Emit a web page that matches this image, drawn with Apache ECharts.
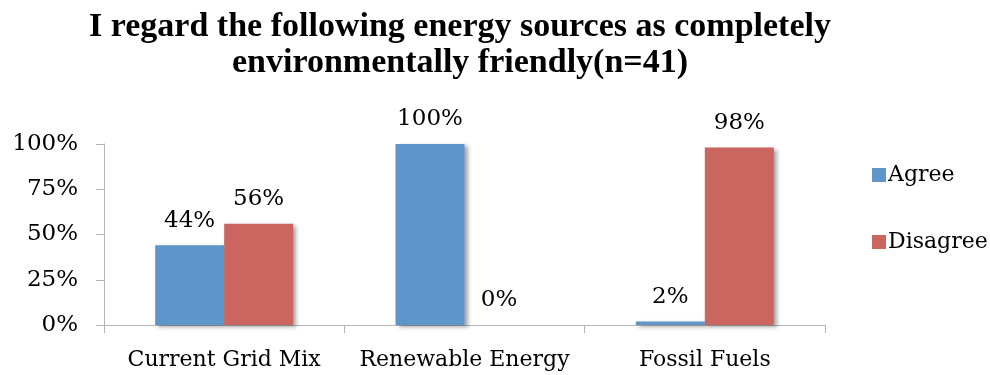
<!DOCTYPE html>
<html>
<head>
<meta charset="utf-8">
<script src="https://cdn.jsdelivr.net/npm/echarts@6/dist/echarts.min.js"></script>
<style>
  html, body { margin: 0; padding: 0; background: #fff; }
  #chart { width: 990px; height: 375px; }
</style>
</head>
<body>
<div id="chart"></div>
<script>
const categories = ['Current Grid Mix', 'Renewable Energy', 'Fossil Fuels'];
const agree = [44, 100, 2];
const disagree = [56, 0, 98];
const yTicks = [0, 25, 50, 75, 100];

const serif = '"DejaVu Serif", serif';
const shadow = {
  shadowColor: 'rgba(0,0,0,0.35)',
  shadowBlur: 4,
  shadowOffsetX: 3,
  shadowOffsetY: 2
};
const barLabel = {
  show: true, position: 'top', distance: 13, formatter: '{c}%',
  fontFamily: serif, fontSize: 23, color: '#000'
};

const chart = echarts.init(document.getElementById('chart'));
chart.setOption({
  animation: false,
  backgroundColor: '#fff',
  title: {
    text: 'I regard the following energy sources as completely\nenvironmentally friendly(n=41)',
    left: 455,
    top: 4,
    textAlign: 'center',
    textStyle: {
      fontFamily: '"Liberation Serif", serif',
      fontWeight: 'bold',
      fontSize: 34,
      lineHeight: 36,
      color: '#000'
    }
  },
  legend: {
    orient: 'vertical',
    left: 867,
    top: 159,
    itemWidth: 14,
    itemHeight: 14,
    itemGap: 45,
    icon: 'rect',
    textStyle: { fontFamily: serif, fontSize: 22, color: '#000', padding: [0, 0, 0, -3] },
    data: ['Agree', 'Disagree']
  },
  grid: { left: 104, right: 165, top: 144, bottom: 50 },
  xAxis: {
    type: 'category',
    data: categories,
    axisLine: { lineStyle: { color: '#b4b4b4', width: 1 } },
    axisTick: { show: true, length: 8, lineStyle: { color: '#b4b4b4' } },
    axisLabel: { interval: 0, fontFamily: serif, fontSize: 22, color: '#000', margin: 24 }
  },
  yAxis: {
    type: 'value',
    min: yTicks[0],
    max: yTicks[yTicks.length - 1],
    interval: 25,
    splitLine: { show: false },
    axisLine: { show: true, lineStyle: { color: '#b4b4b4', width: 1 } },
    axisTick: { show: true, length: 8, lineStyle: { color: '#b4b4b4' } },
    axisLabel: { fontFamily: serif, fontSize: 23, color: '#000', margin: 26, formatter: '{value}%' }
  },
  series: [
    {
      name: 'Agree',
      type: 'bar',
      data: agree,
      barWidth: 69,
      barGap: '0%',
      itemStyle: Object.assign({ color: '#5f96ca' }, shadow),
      label: barLabel
    },
    {
      name: 'Disagree',
      type: 'bar',
      data: disagree,
      barWidth: 69,
      itemStyle: Object.assign({ color: '#cb6560' }, shadow),
      label: barLabel
    }
  ]
});
</script>
</body>
</html>
